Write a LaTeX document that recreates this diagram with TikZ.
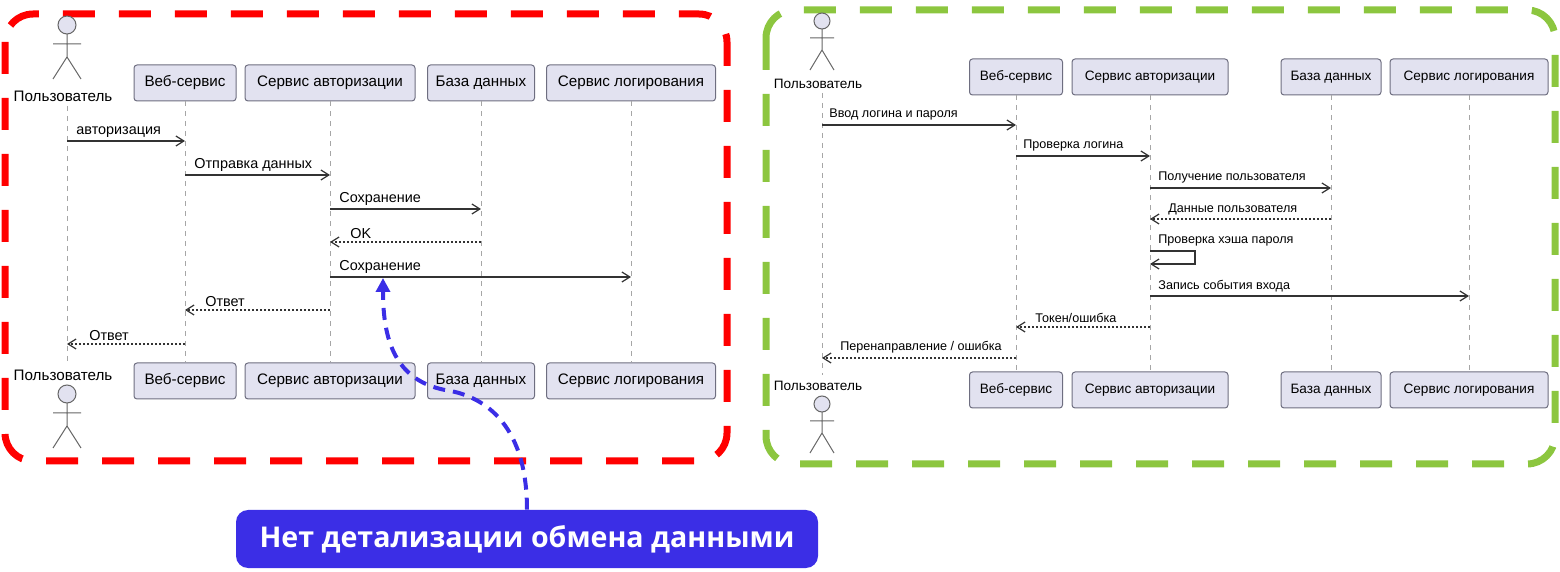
\documentclass[tikz,border=0pt]{standalone}
\usepackage{fontspec}
\setmainfont{Liberation Sans}
\newfontfamily\labfont{Open Sans}
\usetikzlibrary{arrows.meta}
\definecolor{boxfill}{HTML}{E2E2F0}
\definecolor{boxline}{HTML}{6E6E80}
\definecolor{redf}{HTML}{FF0000}
\definecolor{greenf}{HTML}{8CC63F}
\definecolor{bluec}{HTML}{3B2EE6}
\begin{document}
\begin{tikzpicture}[x=0.5pt,y=-0.5pt,
  part/.style={draw=boxline,fill=boxfill,rounded corners=1.5pt,line width=0.5pt,minimum height=18pt,inner sep=0pt,font=\fontsize{#1}{#1}\selectfont},
  part/.default=7.6,
  life/.style={draw=gray!70,dash pattern=on 2.5pt off 2.5pt,line width=0.45pt},
  msg/.style={draw=black!80,line width=0.6pt,-{Straight Barb[length=4pt,width=5pt]}},
  ret/.style={msg,dash pattern=on 1pt off 1pt},
  ml/.style={font=\fontsize{7.2}{7.2}\selectfont,inner sep=1pt},
  mr/.style={font=\fontsize{6.3}{6.3}\selectfont,inner sep=1pt},
  act/.style={draw=gray!80!black,line width=0.5pt},
  frame/.style={line width=3.5pt,rounded corners=14pt,dash pattern=on 16pt off 12pt}]
\useasboundingbox (0,0) rectangle (1560,572);
% ---------- LEFT ----------
\draw[frame,draw=redf] (5,14) rectangle (727,461);
\foreach \n/\x/\a/\b/\t in {lw/185/134/236/Веб-сервис,la/330/245/415/Сервис авторизации,ld/481/427/534/База данных,ll/631/547/716/Сервис логирования}{
  \node[part,minimum width={(\b-\a)*0.5pt}] (\n t) at (\x,83) {\t};
  \node[part,minimum width={(\b-\a)*0.5pt}] (\n b) at (\x,381) {\t};
  \draw[life] (\n t.south) -- (\n b.north);
}
\node[font=\fontsize{7.6}{7.6}\selectfont] (lut) at (63,96) {Пользователь};
\node[font=\fontsize{7.6}{7.6}\selectfont] (lub) at (63,375) {Пользователь};
\coordinate (lu1) at (67,106); \coordinate (lu2) at (67,363);
\draw[life] (lu1) -- (lu2);
\foreach \y in {25,394}{
  \draw[act,fill=boxfill] (67,\y) circle (4.5pt);
  \draw[act] (67,\y+9) -- (67,\y+32) (53,\y+19) -- (81,\y+19) (53,\y+54) -- (67,\y+32) -- (81,\y+54);
}
\foreach \y/\f/\t/\s in {141/67/185/msg,175/185/330/msg,209/330/481/msg,242/481/330/ret,277/330/631/msg,310/330/185/ret,344/185/67/ret}{
  \coordinate (m\y a) at (\f,\y); \coordinate (m\y b) at (\t,\y);
  \draw[\s] (m\y a) -- (m\y b);
}
\node[ml,anchor=south west] at (74,140) {авторизация};
\node[ml,anchor=south west] at (192,174) {Отправка данных};
\node[ml,anchor=south west] at (337,208) {Сохранение};
\node[ml,anchor=south west] at (348,241) {OK};
\node[ml,anchor=south west] at (337,276) {Сохранение};
\node[ml,anchor=south west] at (203,309) {Ответ};
\node[ml,anchor=south west] at (87,343) {Ответ};
% ---------- RIGHT ----------
\draw[frame,draw=greenf] (766,10) rectangle (1555,464);
\foreach \n/\x/\a/\b/\t in {rw/1016/970/1063/Веб-сервис,ra/1150/1073/1229/Сервис авторизации,rd/1331/1281/1381/База данных,rl/1469/1390/1548/Сервис логирования}{
  \node[part=6.8,minimum width={(\b-\a)*0.5pt}] (\n t) at (\x,77) {\t};
  \node[part=6.8,minimum width={(\b-\a)*0.5pt}] (\n b) at (\x,390) {\t};
  \draw[life] (\n t.south) -- (\n b.north);
}
\node[font=\fontsize{6.8}{6.8}\selectfont] (rut) at (818,84) {Пользователь};
\node[font=\fontsize{6.8}{6.8}\selectfont] (rub) at (818,386) {Пользователь};
\coordinate (ru1) at (822,93); \coordinate (ru2) at (822,375);
\draw[life] (ru1) -- (ru2);
\foreach \y in {21,404}{
  \draw[act,fill=boxfill] (822,\y) circle (4pt);
  \draw[act] (822,\y+8) -- (822,\y+29) (810,\y+17) -- (834,\y+17) (810,\y+49) -- (822,\y+29) -- (834,\y+49);
}
\foreach \y/\f/\t/\s in {125/822/1016/msg,156/1016/1150/msg,188/1150/1331/msg,219/1331/1150/ret,296/1150/1469/msg,327/1150/1016/ret,358/1016/822/ret}{
  \coordinate (r\y a) at (\f,\y); \coordinate (r\y b) at (\t,\y);
  \draw[\s] (r\y a) -- (r\y b);
}
\coordinate (s1) at (1150,251); \coordinate (s2) at (1195,251); \coordinate (s3) at (1195,264); \coordinate (s4) at (1150,264);
\draw[msg] (s1) -- (s2) -- (s3) -- (s4);
\node[mr,anchor=south west] at (827,123) {Ввод логина и пароля};
\node[mr,anchor=south west] at (1021,154) {Проверка логина};
\node[mr,anchor=south west] at (1156,186) {Получение пользователя};
\node[mr,anchor=south west] at (1166,217) {Данные пользователя};
\node[mr,anchor=south west] at (1156,249) {Проверка хэша пароля};
\node[mr,anchor=south west] at (1156,294) {Запись события входа};
\node[mr,anchor=south west] at (1033,325) {Токен/ошибка};
\node[mr,anchor=south west] at (838,356) {Перенаправление / ошибка};
% ---------- CALLOUT ----------
\node[fill=bluec,rounded corners=6pt,minimum width=291pt,minimum height=29pt,text=white,font=\labfont\bfseries\fontsize{14.3}{14.3}\selectfont] (call) at (527,539) {Нет детализации обмена данными};
\coordinate (tip) at (383,278);
\draw[bluec,line width=2pt,dash pattern=on 6pt off 4pt,-{Triangle[length=7pt,width=7pt]}] (call.north) .. controls (527,420) and (480,395) .. (445,390) .. controls (395,380) and (383,340) .. (tip);
\end{tikzpicture}
\end{document}
